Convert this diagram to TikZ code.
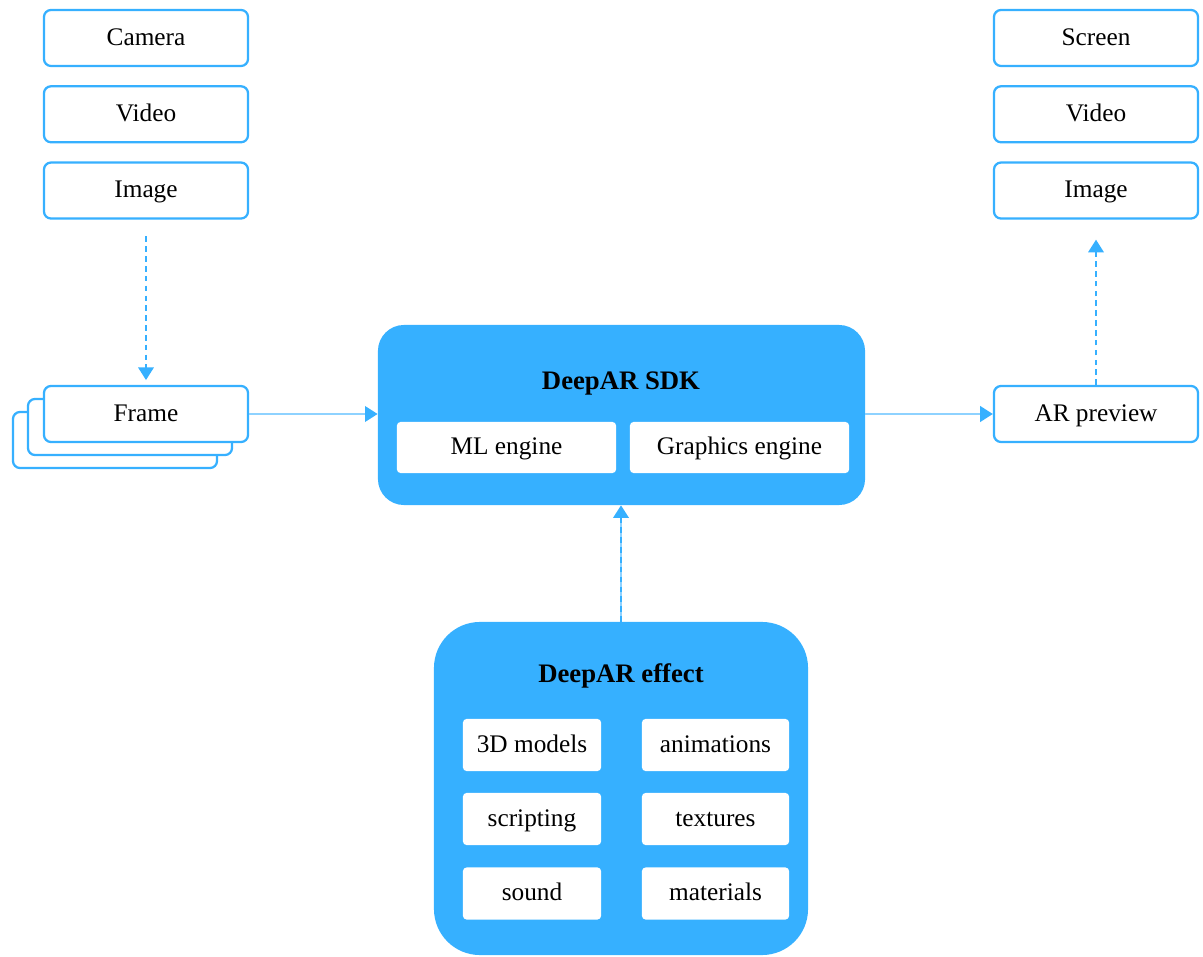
\documentclass[tikz,border=0pt]{standalone}
\usepackage{fontspec}
\setmainfont{Liberation Serif}
\usetikzlibrary{arrows.meta,positioning}
\definecolor{arBlue}{HTML}{36B0FF}
\definecolor{arLine}{HTML}{8ED2FF}

\begin{document}
\begin{tikzpicture} %
		[
			x=0.025cm, y=-0.025cm,
			font={\fontsize{18}{22}\selectfont},
			io/.style={
				draw=arBlue,
				line width=1.6pt,
				rounded corners=5pt,
				fill=white,
				minimum width=5.1cm,
				minimum height=1.4cm,
				inner sep=0,
				text height=12pt, text depth=1.5pt,
			},
			block/.style={fill=arBlue, inner sep=0},
			part/.style={fill=white, rounded corners=2.5pt, minimum height=1.3cm, inner sep=0,
				text height=12pt, text depth=1.5pt},
			title/.style={font={\fontsize{19}{22}\selectfont\bfseries}},
			arch/.style={draw=arBlue, line width=1.4pt, -{Triangle[width=11pt,length=9pt,color=arBlue]}},
			flow/.style={arch, draw=arLine, line width=1.6pt},
			dots/.style={arch, dash pattern=on 4pt off 3pt},
		]
		\useasboundingbox (0,0) rectangle (1203,957);
		% sources
		\node[io] (camera) at (146,38) {Camera};
		\node[io, below =0.45cm of camera] (video) {Video};
		\node[io, below =0.45cm of video] (image) {Image};
		% stacked frames
		\node[io] (frame3) at (115,440) {};
		\node[io] (frame2) at (130,427) {};
		\node[io] (frame) at (146,414) {Frame};
		% outputs
		\node[io] (screen) at (1096,38) {Screen};
		\node[io, below =0.45cm of screen] (outvideo) {Video};
		\node[io, below =0.45cm of outvideo] (outimage) {Image};
		\node[io] (preview) at (1096,414) {AR preview};
		% sdk
		\node[block, rounded corners=0.65cm, minimum width=12.175cm, minimum height=4.5cm]
		(sdk) at (621.5,415) {};
		\node[title] (sdktitle) at (621,383) {DeepAR SDK};
		\node[part, minimum width=5.475cm, minimum height=1.275cm] (ml) at (506.5,447.5) {ML engine};
		\node[part, minimum width=5.475cm, minimum height=1.275cm] (gfx) at (739.5,447.5) {Graphics engine};
		% effect
		\node[block, rounded corners=1.15cm, minimum width=9.35cm, minimum height=8.325cm]
		(effect) at (621,788.5) {};
		\node[title] (efftitle) at (621,676) {DeepAR effect};
		\node[part, minimum width=3.45cm] (models) at (532,745) {3D models};
		\node[part, minimum width=3.675cm] (anim) at (715.5,745) {animations};
		\node[part, minimum width=3.45cm] (script) at (532,819) {scripting};
		\node[part, minimum width=3.675cm] (tex) at (715.5,819) {textures};
		\node[part, minimum width=3.45cm] (sound) at (532,893.5) {sound};
		\node[part, minimum width=3.675cm] (mat) at (715.5,893.5) {materials};
		% connectors
		\draw[dots, shorten <=0.42cm, shorten >=0.12cm] (image) -- (frame);
		\draw[flow] (frame) -- (sdk.west |- frame);
		\draw[flow] (sdk.east |- preview) -- (preview);
		\draw[dots, shorten >=0.5cm] (preview) -- (outimage);
		\draw[flow] (effect.north) -- (effect.north |- sdk.south);
		\draw[dots, -, shorten >=0.3cm] (effect.north) -- (effect.north |- sdk.south);
	\end{tikzpicture}
\end{document}
